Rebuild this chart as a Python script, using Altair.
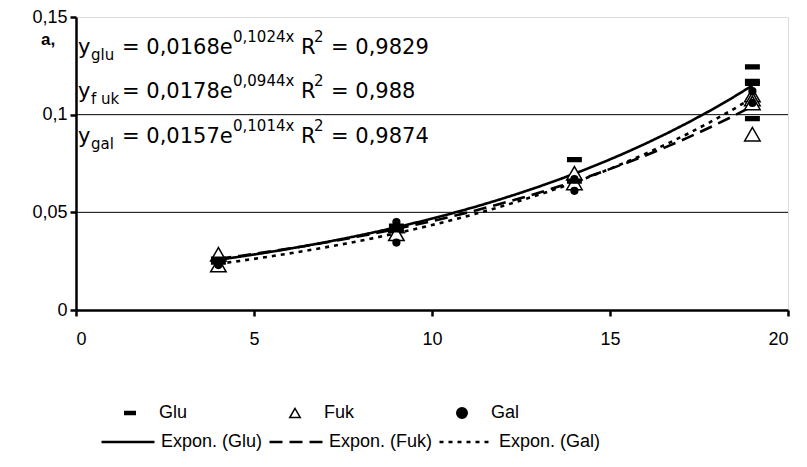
import altair as alt
import pandas as pd

# ---- data ----
series = ["Glu", "Fuk", "Gal"]
trend_labels = ["Expon. (Glu)", "Expon. (Fuk)", "Expon. (Gal)"]

x_glu = [4, 4, 9, 9, 14, 14, 19, 19, 19, 19]
y_glu = [0.0245, 0.026, 0.041, 0.043, 0.077, 0.066, 0.1245, 0.117, 0.116, 0.098]
x_fuk = [4, 4, 9, 9, 14, 14, 19, 19, 19, 19]
y_fuk = [0.0285, 0.023, 0.043, 0.039, 0.070, 0.065, 0.110, 0.108, 0.106, 0.090]
x_gal = [4, 4, 9, 9, 14, 14, 19, 19]
y_gal = [0.024, 0.023, 0.045, 0.0345, 0.067, 0.061, 0.112, 0.106]

x_ticks = [0, 5, 10, 15, 20]
y_ticks = [0, 0.05, 0.1, 0.15]
grid_vals = [0.05, 0.1]

# equation annotation pieces: text, kind (main/sub/sup), line index
eq_text = ["y", "glu", "= 0,0168e", "0,1024x", "R", "2", "= 0,9829",
           "y", "f uk", "= 0,0178e", "0,0944x", "R", "2", "= 0,988",
           "y", "gal", "= 0,0157e", "0,1014x", "R", "2", "= 0,9874"]
eq_kind = ["main", "sub", "main", "sup", "main", "sup", "main"] * 3
eq_line = [0] * 7 + [1] * 7 + [2] * 7

# ---- layout (pixels) ----
W, H = 712, 293
PAD_L, PAD_T = 76, 17
piece_x = [2, 15, 46, 157, 225, 238, 255]
line_base = [37, 81, 126]
kind_dy = {"main": 0, "sub": 6, "sup": -12}
marker_size = {"Glu": 180, "Fuk": 240, "Gal": 45}
draw_order = ["Fuk", "Glu", "Gal"]

points = pd.DataFrame({
    "series": ["Glu"] * len(y_glu) + ["Fuk"] * len(y_fuk) + ["Gal"] * len(y_gal),
    "x": x_glu + x_fuk + x_gal,
    "y": y_glu + y_fuk + y_gal,
})

eq = pd.DataFrame({
    "text": eq_text,
    "kind": eq_kind,
    "px": [piece_x[i % 7] for i in range(len(eq_text))],
    "py": [line_base[l] + kind_dy[k] for l, k in zip(eq_line, eq_kind)],
})

FONT = "Liberation Sans"
xs = alt.Scale(domain=[0, 20], nice=False, zero=False)
ys = alt.Scale(domain=[0, 0.15], nice=False)

x_axis = alt.Axis(values=x_ticks, title=None, grid=False, domainColor="black",
                  domainWidth=2.5, tickColor="black", tickWidth=2.5, tickSize=6,
                  labelFontSize=18, labelFont=FONT, labelColor="black",
                  labelPadding=14, format="d")
y_axis = alt.Axis(values=y_ticks, title=None, grid=False, domainColor="black",
                  domainWidth=2.5, tickColor="black", tickWidth=2.5, tickSize=6,
                  labelFontSize=18, labelFont=FONT, labelColor="black",
                  labelPadding=3, format=".2~f",
                  labelExpr="replace(datum.label, '.', ',')")

grid = alt.Chart(pd.DataFrame({"g": grid_vals})).mark_rule(
    color="black", strokeWidth=1
).encode(y=alt.Y("g:Q", scale=ys, axis=y_axis))

trend = alt.Chart(points).transform_regression(
    "x", "y", method="exp", groupby=["series"], extent=[4, 19]
).transform_calculate(
    trend="'Expon. (' + datum.series + ')'"
).mark_line(color="black", strokeWidth=2.6).encode(
    x=alt.X("x:Q", scale=xs, axis=x_axis),
    y=alt.Y("y:Q", scale=ys, axis=y_axis),
    detail="series:N",
    strokeDash=alt.StrokeDash(
        "trend:N",
        scale=alt.Scale(domain=trend_labels, range=[[1, 0], [13, 7], [4, 5]]),
        legend=alt.Legend(title=None, orient="none", legendX=24, legendY=397,
                          columns=3, symbolType="stroke", symbolSize=2809,
                          symbolStrokeWidth=2.6, symbolStrokeColor="black",
                          labelFontSize=18, labelFont=FONT, labelColor="black",
                          labelOffset=5, columnPadding=1, padding=0),
    ),
)

pt_legend = alt.Legend(title=None, orient="none", legendX=45, legendY=387,
                       columns=3, symbolSize=110, symbolStrokeColor="black",
                       symbolStrokeWidth=1.5, labelFontSize=18, labelFont=FONT,
                       labelColor="black", labelOffset=20, columnPadding=98,
                       padding=0)

dash_path = "M-1,-0.28L1,-0.28L1,0.28L-1,0.28Z"
shape_scale = alt.Scale(domain=series, range=[dash_path, "triangle-up", "circle"])
fill_scale = alt.Scale(domain=series, range=["black", "white", "black"])
stroke_scale = alt.Scale(domain=series, range=["black", "black", "black"])


def point_layer(name):
    return alt.Chart(points).transform_filter(
        alt.datum.series == name
    ).mark_point(
        strokeWidth=1.5, opacity=1, fillOpacity=1, strokeOpacity=1,
        filled=False, size=marker_size[name]
    ).encode(
        x=alt.X("x:Q", scale=xs, axis=x_axis),
        y=alt.Y("y:Q", scale=ys, axis=y_axis),
        shape=alt.Shape("series:N", scale=shape_scale, legend=pt_legend),
        fill=alt.Fill("series:N", scale=fill_scale, legend=pt_legend),
        stroke=alt.Stroke("series:N", scale=stroke_scale, legend=pt_legend),
    )


pts = [point_layer(s) for s in draw_order]

eq_main = alt.Chart(eq).transform_filter("datum.kind == 'main'").mark_text(
    align="left", baseline="alphabetic", fontSize=21, font="DejaVu Sans", color="black"
).encode(x=alt.X("px:Q", scale=None), y=alt.Y("py:Q", scale=None), text="text:N")

eq_small = alt.Chart(eq).transform_filter("datum.kind != 'main'").mark_text(
    align="left", baseline="alphabetic", fontSize=15, font="DejaVu Sans", color="black"
).encode(x=alt.X("px:Q", scale=None), y=alt.Y("py:Q", scale=None), text="text:N")

label_a = alt.Chart(pd.DataFrame({"t": ["a,"]})).mark_text(
    align="left", baseline="alphabetic", fontSize=17, font=FONT,
    fontWeight="bold", color="black"
).encode(x=alt.value(-35), y=alt.value(28), text="t:N")

chart = alt.layer(grid, trend, *pts, eq_main, eq_small, label_a).properties(
    width=W, height=H,
    autosize=alt.AutoSizeParams(type="none"),
    padding={"left": PAD_L, "top": PAD_T, "right": 807 - PAD_L - W,
             "bottom": 467 - PAD_T - H},
).configure_view(stroke="#808080", strokeWidth=1).configure(background="white")

chart.save("out.html", embed_options={"renderer": "svg", "actions": False})
